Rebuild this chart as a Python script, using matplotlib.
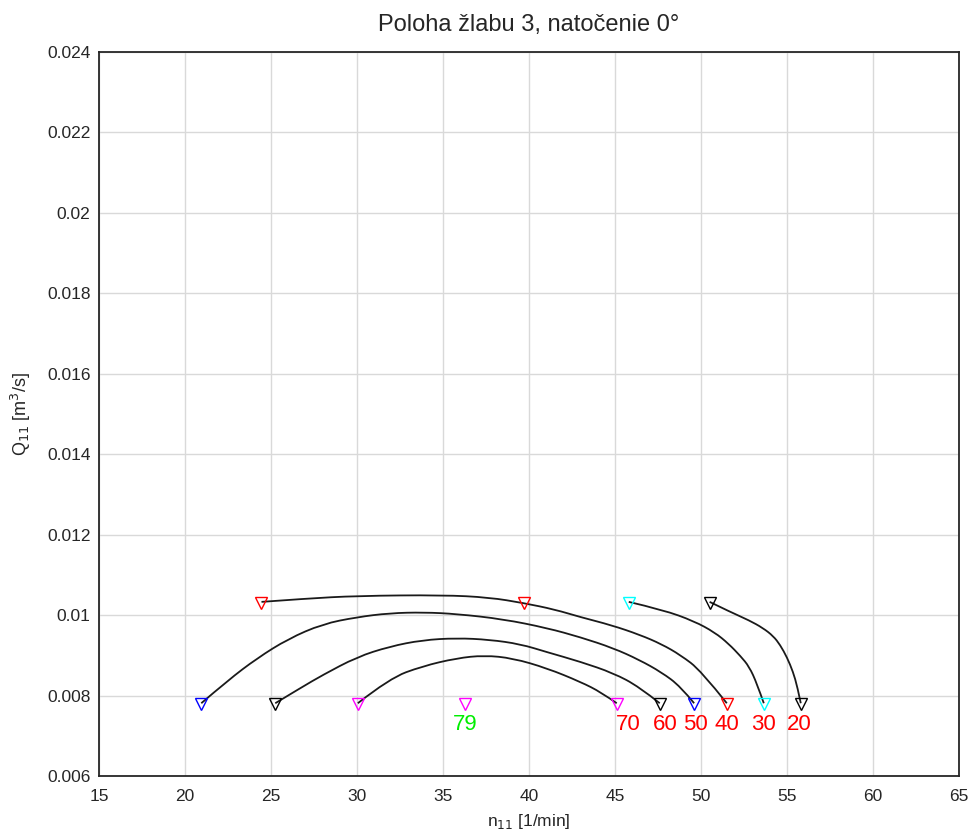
import matplotlib

matplotlib.use("Agg")
import matplotlib.pyplot as plt
from matplotlib.patches import PathPatch
from matplotlib.path import Path

plt.rcParams["font.family"] = ["Liberation Sans", "DejaVu Sans"]

# marker points (n11 [1/min], Q11 [m3/s])
top_n = [24.4, 39.7, 45.8, 50.5]
top_q = [0.0103, 0.0103, 0.0103, 0.0103]
top_colors = ["red", "red", "cyan", "black"]

bottom_n = [20.95, 25.25, 30.05, 36.3, 45.1, 47.6, 49.6, 51.5, 53.65, 55.8]
bottom_q = [0.0078] * 10
bottom_colors = ["blue", "black", "magenta", "magenta", "magenta",
                 "black", "blue", "red", "cyan", "black"]

# labels below the bottom markers
label_text = ["79", "70", "60", "50", "40", "30", "20"]
label_n = [36.3, 45.1, 47.6, 49.6, 51.5, 53.65, 55.8]
label_colors = ["#00ee00", "red", "red", "red", "red", "red", "red"]

# connecting curves, points
curve_40_n = [24.45, 27.0, 30.0, 35.0, 37.7, 39.7, 41.5, 43.0, 44.8, 46.45, 47.7, 48.8, 50.0, 51.5]
curve_40_q = [0.01033, 0.01041, 0.01048, 0.0105, 0.01044, 0.0103, 0.01014, 0.00995, 0.00975,
              0.00951, 0.00928, 0.00901, 0.00862, 0.00781]
curve_50_n = [20.95, 22.5, 24.2, 26.0, 28.0, 30.0, 31.9, 33.9, 35.8, 38.5, 41.05, 43.0, 44.9, 46.4, 47.7, 48.8, 49.6]
curve_50_q = [0.00781, 0.00838, 0.00893, 0.00941, 0.00978, 0.00995, 0.01005, 0.01007, 0.01003,
              0.0099, 0.00968, 0.00945, 0.00918, 0.00889, 0.00858, 0.00823, 0.00781]
curve_60_n = [25.25, 26.8, 28.0, 30.0, 31.9, 33.8, 35.8, 37.7, 39.5, 41.05, 43.0, 44.9, 46.4, 47.6]
curve_60_q = [0.00781, 0.00821, 0.00851, 0.00896, 0.00922, 0.00938, 0.00943, 0.00939, 0.00928,
              0.00908, 0.00884, 0.00856, 0.00822, 0.00781]
curve_70_n = [30.05, 31.9, 33.8, 35.8, 37.4, 39.05, 41.05, 43.0, 44.2, 45.1]
curve_70_q = [0.00781, 0.00843, 0.00873, 0.00893, 0.009, 0.00893, 0.00868, 0.00834, 0.00808, 0.00781]
curve_30_n = [45.8, 47.8, 49.6, 50.8, 51.6, 52.3, 52.8, 53.25, 53.65]
curve_30_q = [0.01033, 0.01013, 0.00985, 0.00957, 0.00929, 0.00898, 0.00872, 0.0083, 0.00781]
curve_20_n = [50.5, 51.7, 52.8, 53.6, 54.2, 54.6, 55.0, 55.35, 55.6, 55.8]
curve_20_q = [0.01033, 0.01008, 0.00987, 0.00968, 0.00948, 0.00926, 0.00895, 0.00859, 0.00822, 0.00781]

curves = [
    (curve_40_n, curve_40_q),
    (curve_50_n, curve_50_q),
    (curve_60_n, curve_60_q),
    (curve_70_n, curve_70_q),
    (curve_30_n, curve_30_q),
    (curve_20_n, curve_20_q),
]


def smooth_path(n, q):
    # quadratic bezier through the midpoints, read points act as controls
    pts = list(zip(n, q))
    verts = [pts[0]]
    codes = [Path.MOVETO]
    for i in range(1, len(pts) - 1):
        mid = ((pts[i][0] + pts[i + 1][0]) / 2, (pts[i][1] + pts[i + 1][1]) / 2)
        if i == len(pts) - 2:
            mid = pts[-1]
        verts += [pts[i], mid]
        codes += [Path.CURVE3, Path.CURVE3]
    return Path(verts, codes)


fig = plt.figure(figsize=(9.7, 8.34), dpi=100)
ax = fig.add_axes([0.102, 0.0695, 0.8867, 0.8681])

for n, q in curves:
    ax.add_patch(PathPatch(smooth_path(n, q), fc="none", ec="#1a1a1a", lw=1.3, zorder=2))

for n, q, c in zip(top_n + bottom_n, top_q + bottom_q, top_colors + bottom_colors):
    ax.plot(n, q, marker="v", ms=8.5, mfc="none", mec=c, mew=1.0, ls="none", zorder=3)

label_dx = [0, 8, 4, 1, 0, 0, -1]
for t, n, c, dx in zip(label_text, label_n, label_colors, label_dx):
    ax.annotate(t, (n, 0.0078), xytext=(dx, -15), textcoords="offset points",
                ha="center", va="center", color=c, fontsize=16)

ax.set_xlim(15, 65)
ax.set_ylim(0.006, 0.024)
ax.set_xticks(range(15, 70, 5))
ax.set_yticks([0.006, 0.008, 0.01, 0.012, 0.014, 0.016, 0.018, 0.02, 0.022, 0.024])
ax.set_yticklabels(["0.006", "0.008", "0.01", "0.012", "0.014", "0.016",
                    "0.018", "0.02", "0.022", "0.024"])
ax.grid(True, color="#d9d9d9", lw=1.0)
ax.set_axisbelow(True)
ax.tick_params(length=0, labelsize=12.5, colors="#262626")
ax.tick_params(axis="x", pad=9)
ax.tick_params(axis="y", pad=6)
for s in ax.spines.values():
    s.set_color("#262626")
    s.set_linewidth(1.3)

ax.set_title("Poloha žlabu 3, natočenie 0°", fontsize=17, color="#262626", pad=15)
ax.set_xlabel("n$_{11}$ [1/min]", fontsize=12.5, color="#262626", labelpad=6)
ax.set_ylabel("Q$_{11}$ [m$^3$/s]", fontsize=13, color="#262626", labelpad=10)

fig.savefig("out.png", dpi=100)
